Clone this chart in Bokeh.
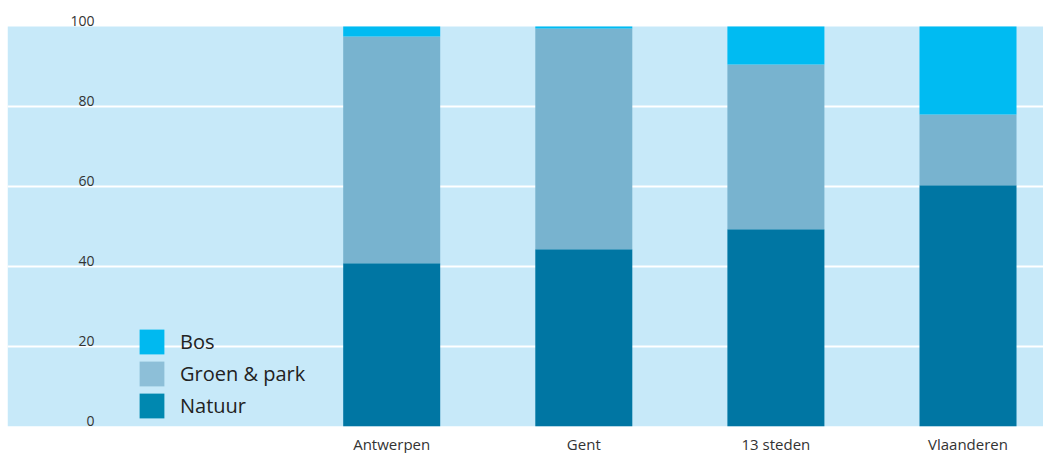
from bokeh.plotting import figure
from bokeh.models import (ColumnDataSource, FixedTicker, Legend, LegendItem,
                          LabelSet, BoxAnnotation)
from bokeh.core.properties import value
from bokeh.embed import file_html
from bokeh.resources import INLINE

# ---- data ----
categories = ["Antwerpen", "Gent", "13 steden", "Vlaanderen"]
natuur = [40.8, 44.3, 49.3, 60.3]
groen = [56.7, 55.2, 41.2, 17.7]
bos = [2.5, 0.5, 9.5, 22.0]
series_names = ["Bos", "Groen & park", "Natuur"]
y_ticks = [0, 20, 40, 60, 80, 100]
y_tick_labels = ["0", "20", "40", "60", "80", "100"]
y_max = 100

# ---- style ----
FONT = "Open Sans"
BG = "#c7e9f9"
bar_colors = {"natuur": "#0076a3", "groen": "#78b3cf", "bos": "#00bbf2"}
legend_colors = {"Bos": "#00b9f0", "Groen & park": "#8dbfd8", "Natuur": "#0088b0"}

xs = list(range(1, len(categories) + 1))
src = ColumnDataSource(dict(x=xs, natuur=natuur, groen=groen, bos=bos))

p = figure(
    frame_width=1036, frame_height=416,
    x_range=(-1.0, 4.393), y_range=(0, y_max * 1.04),
    output_backend="svg", toolbar_location=None,
    y_axis_location=None,
    min_border_left=7, min_border_right=0, min_border_top=10, min_border_bottom=27,
)
p.background_fill_color = "white"
p.border_fill_color = "white"
p.outline_line_color = None

# light-blue chart area 0..100
bg = BoxAnnotation(bottom=0, top=y_max, fill_color=BG, fill_alpha=1,
                   line_color=None, level="image")
p.add_layout(bg)

p.vbar_stack(["natuur", "groen", "bos"], x="x", width=0.505,
             color=[bar_colors["natuur"], bar_colors["groen"], bar_colors["bos"]],
             line_width=0, source=src)

# grid
p.xgrid.grid_line_color = None
p.ygrid.ticker = FixedTicker(ticks=[20, 40, 60, 80])
p.ygrid.grid_line_color = "white"
p.ygrid.grid_line_width = 2
p.ygrid.level = "underlay"

# x axis
xa = p.xaxis[0]
xa.ticker = FixedTicker(ticks=xs)
xa.major_label_overrides = {x: c for x, c in zip(xs, categories)}
xa.axis_line_color = None
xa.major_tick_line_color = None
xa.minor_tick_line_color = None
xa.major_tick_out = 0
xa.major_label_standoff = 7
xa.major_label_text_font = FONT
xa.major_label_text_font_size = "15px"
xa.major_label_text_color = "#333333"

# y tick labels drawn inside the plot area
label_x = p.x_range.start + 0.453
ysrc = ColumnDataSource(dict(x=[label_x] * len(y_ticks), y=y_ticks, t=y_tick_labels))
p.add_layout(LabelSet(x="x", y="y", text="t", source=ysrc,
                      text_font=value(FONT), text_font_size="14px",
                      text_color="#333333", text_align="right",
                      text_baseline="alphabetic", y_offset=1))

# legend (separate swatches)
nan = float("nan")
items = []
for name in series_names:
    r = p.rect(x=[nan], y=[nan], width=1, height=1, fill_color=legend_colors[name],
               line_color=None)
    items.append(LegendItem(label=name, renderers=[r]))
legend = Legend(items=items, location=(129, 5), orientation="vertical",
                glyph_width=31, glyph_height=31, label_height=31, spacing=1,
                label_standoff=13, padding=0, margin=0,
                background_fill_alpha=0, border_line_color=None,
                label_text_font=FONT, label_text_font_size="20px",
                label_text_color="#222222")
p.add_layout(legend, "center")

open("out.html", "w").write(file_html(p, INLINE))
